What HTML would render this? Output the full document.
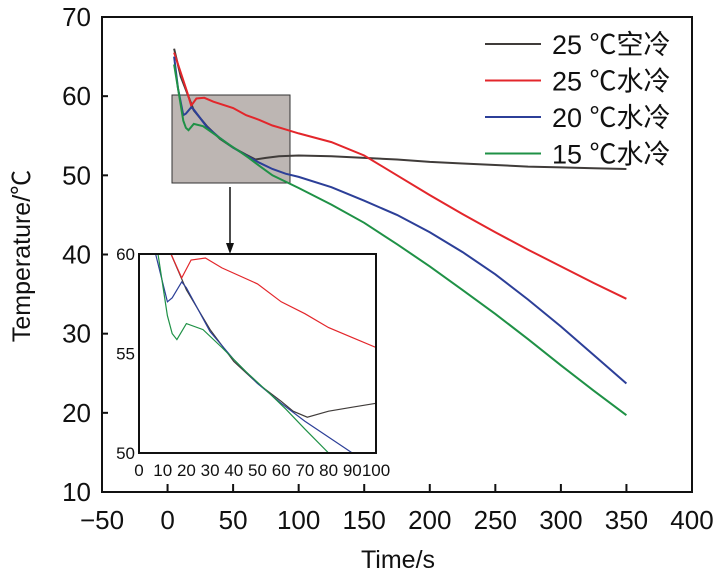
<!DOCTYPE html>
<html><head><meta charset="utf-8"><style>
body{margin:0;background:#fff}
svg text{font-family:"Liberation Sans","Noto Sans CJK SC",sans-serif;fill:#111}
</style></head><body>
<svg id="c" width="723" height="577" xmlns="http://www.w3.org/2000/svg"></svg>
<script>
const xTicks=[-50,0,50,100,150,200,250,300,350,400];
const yTicks=[10,20,30,40,50,60,70];
const insetXTicks=[0,10,20,30,40,50,60,70,80,90,100];
const insetYTicks=[50,55,60];
const seriesNames=["25 ℃空冷","25 ℃水冷","20 ℃水冷","15 ℃水冷"];
const seriesColors=["#403c3a","#e3262b","#2c3f98","#1f9146"];
// main series
const airT=[5,10,20,30,40,50,60,67,75,85,100,125,150,175,200,225,250,275,300,325,350];
const airV=[66,62.5,58.2,56.2,54.6,53.5,52.6,52.0,52.2,52.4,52.5,52.4,52.2,52.0,51.7,51.5,51.3,51.1,51.0,50.9,50.8];
const w25T=[5,10,15,18,22,28,35,50,60,70,80,90,100,125,150,175,200,225,250,275,300,325,350];
const w25V=[65.5,63,60.5,58.8,59.7,59.8,59.3,58.5,57.6,57,56.3,55.8,55.3,54.2,52.5,50,47.5,45.1,42.8,40.6,38.5,36.4,34.4];
const w20T=[5,8,12,14,18,20,30,40,50,60,70,80,90,100,125,150,175,200,225,250,275,300,325,350];
const w20V=[65,61,57.6,57.8,58.6,58.3,56.1,54.7,53.5,52.5,51.6,50.8,50.2,49.8,48.5,46.8,45,42.8,40.3,37.5,34.3,30.9,27.3,23.7];
const w15T=[5,8,12,14,16,20,27,35,45,55,62,70,80,100,125,150,175,200,225,250,275,300,325,350];
const w15V=[64,61,56.9,56,55.7,56.5,56.2,55.3,54.1,53,52.2,51.2,50,48.4,46.3,44,41.3,38.5,35.5,32.5,29.3,26,22.8,19.7];
// inset series
const iAirT=[13.5,20,30,40,50,60,65,71,80,90,100];
const iAirV=[60,58.2,56.2,54.6,53.5,52.6,52.1,51.8,52.1,52.3,52.5];
const iW25T=[13.5,18,22,28,35,50,60,70,80,90,100];
const iW25V=[60,58.8,59.7,59.8,59.3,58.5,57.6,57,56.3,55.8,55.3];
const iW20T=[7,12,14,18,20,30,40,50,60,70,80,90,93];
const iW20V=[60,57.6,57.8,58.6,58.3,56.1,54.7,53.5,52.5,51.6,50.8,50,49.8];
const iW15T=[8,12,14,16,20,27,35,45,55,62,70,80];
const iW15V=[60,56.9,56,55.7,56.5,56.2,55.3,54.1,53,52.2,51.2,50];
const allT=[airT,w25T,w20T,w15T], allV=[airV,w25V,w20V,w15V];
const inT=[iAirT,iW25T,iW20T,iW15T], inV=[iAirV,iW25V,iW20V,iW15V];

const NS="http://www.w3.org/2000/svg", svg=document.getElementById('c');
function mk(tag,attrs,parent){const e=document.createElementNS(NS,tag);for(const k in attrs)e.setAttribute(k,attrs[k]);(parent||svg).appendChild(e);return e;}
const X=v=>102+(v+50)*(590/450), Y=v=>492-(v-10)*(475/60);
const IX=v=>139+v*2.37, IY=v=>254+(60-v)*19.9;

let f=mk('rect',{x:102,y:17,width:590,height:475,fill:'none',stroke:'#111','stroke-width':2});

xTicks.forEach(t=>{
  let l=mk('line',{x1:X(t),x2:X(t),y1:492,y2:484,stroke:'#111','stroke-width':2});
  
  let tx=mk('text',{x:X(t),y:529,'font-size':26,'text-anchor':'middle'});tx.textContent=t<0?'−'+(-t):t;
  
});
yTicks.forEach(t=>{
  let l=mk('line',{x1:102,x2:108,y1:Y(t),y2:Y(t),stroke:'#111','stroke-width':2});
  
  let tx=mk('text',{x:91,y:Y(t)+9,'font-size':26,'text-anchor':'end'});tx.textContent=t;
  
});
let xt=mk('text',{x:398,y:568,'font-size':25,'text-anchor':'middle'});xt.textContent='Time/s';

let yt=mk('text',{x:0,y:0,'font-size':25,'text-anchor':'middle',transform:'translate(30,256) rotate(-90)'});yt.textContent='Temperature/℃';


let zr=mk('rect',{x:172,y:95,width:118,height:88,fill:'#bdb6b3',stroke:'#333','stroke-width':1});


const keys=['air-25','water-25','water-20','water-15'];
for(let s=0;s<4;s++){
  const pts=allT[s].map((t,i)=>X(t).toFixed(1)+','+Y(allV[s][i]).toFixed(1)).join(' ');
  let p=mk('polyline',{points:pts,fill:'none',stroke:seriesColors[s],'stroke-width':2});
  
}
let ar=mk('line',{x1:230,x2:230,y1:187,y2:245,stroke:'#111','stroke-width':1.5});

let ah=mk('polygon',{points:'226,243 234,243 230,254',fill:'#111'});


for(let s=0;s<4;s++){
  const y=44+s*36.5;
  let l=mk('line',{x1:485,x2:541,y1:y,y2:y,stroke:seriesColors[s],'stroke-width':2});
  
  let t=mk('text',{x:552,y:y+10,'font-size':27});t.textContent=seriesNames[s];
  
}

let ib=mk('rect',{x:139,y:254,width:237,height:199,fill:'#fff',stroke:'none'});

const clip=mk('clipPath',{id:'ic'});mk('rect',{x:139,y:254,width:237,height:199},clip);
const ig=mk('g',{'clip-path':'url(#ic)'});

for(let s=0;s<4;s++){
  const pts=inT[s].map((t,i)=>IX(t).toFixed(1)+','+IY(inV[s][i]).toFixed(1)).join(' ');
  let p=mk('polyline',{points:pts,fill:'none',stroke:seriesColors[s],'stroke-width':1.2},ig);
  
}
let ifr=mk('rect',{x:139,y:254,width:237,height:199,fill:'none',stroke:'#111','stroke-width':2});

insetXTicks.forEach(t=>{
  let tx=mk('text',{x:IX(t),y:476,'font-size':17,'text-anchor':'middle'});tx.textContent=t;
  
});
insetYTicks.forEach(t=>{
  let tx=mk('text',{x:135,y:IY(t)+6,'font-size':17,'text-anchor':'end'});tx.textContent=t;
  
});
</script>
</body></html>
